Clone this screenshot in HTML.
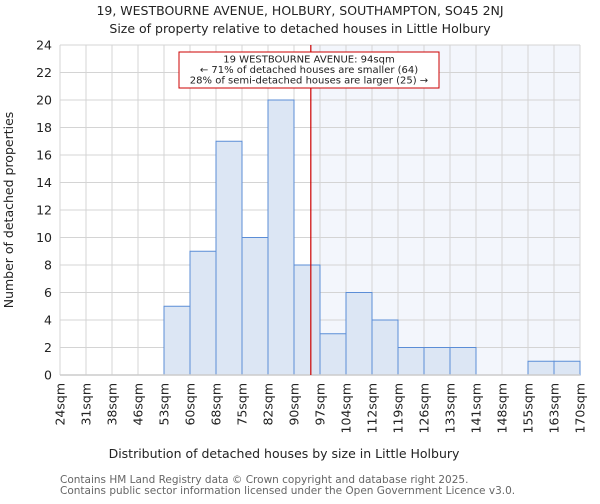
<!DOCTYPE html>
<html><head><meta charset="utf-8"><style>
body{margin:0;background:#fff;font-family:"DejaVu Sans","Liberation Sans",sans-serif}
svg text{font-family:"DejaVu Sans","Liberation Sans",sans-serif}
</style></head><body>
<svg id="c" width="600" height="500" xmlns="http://www.w3.org/2000/svg">
<text x="300" y="15" text-anchor="middle" font-size="12.5" fill="#222">19, WESTBOURNE AVENUE, HOLBURY, SOUTHAMPTON, SO45 2NJ</text>
<text x="300" y="33" text-anchor="middle" font-size="12.5" fill="#222">Size of property relative to detached houses in Little Holbury</text>
<g id="plot"></g>
<text x="284" y="458" text-anchor="middle" font-size="12.5" fill="#222">Distribution of detached houses by size in Little Holbury</text>
<text transform="translate(13,210) rotate(-90)" text-anchor="middle" font-size="12.5" fill="#222">Number of detached properties</text>
<text x="60" y="483" font-size="10.5" fill="#666">Contains HM Land Registry data © Crown copyright and database right 2025.</text>
<text x="60" y="494" font-size="10.5" fill="#666">Contains public sector information licensed under the Open Government Licence v3.0.</text>
</svg>
<script>
const binLabels=["24sqm","31sqm","38sqm","46sqm","53sqm","60sqm","68sqm","75sqm","82sqm","90sqm","97sqm","104sqm","112sqm","119sqm","126sqm","133sqm","141sqm","148sqm","155sqm","163sqm","170sqm"];
const binEdges=[24,31,38,46,53,60,68,75,82,90,97,104,112,119,126,133,141,148,155,163,170];
const counts=[0,0,0,0,5,9,17,10,20,8,3,6,4,2,2,2,0,0,1,1];
const yTicks=[0,2,4,6,8,10,12,14,16,18,20,22,24];
const subjectSize=94;
const X0=60,X1=580,Y0=375,Y1=45,YMAX=24;
const NS="http://www.w3.org/2000/svg";
const g=document.getElementById('plot');
function xi(i){return X0+(X1-X0)*i/(binEdges.length-1);}
function xv(v){const a=binEdges[0],b=binEdges[binEdges.length-1];return X0+(X1-X0)*(v-a)/(b-a)+1.5;}
function y(v){return Y0-(Y0-Y1)*v/YMAX;}
function el(t,a){const e=document.createElementNS(NS,t);for(const k in a)e.setAttribute(k,a[k]);g.appendChild(e);return e;}
const sx=xv(subjectSize);
let r=el('rect',{x:sx,y:Y1,width:X1-sx,height:Y0-Y1,fill:'#f3f6fc'});


yTicks.forEach(t=>{
 let l=el('line',{x1:X0,x2:X1,y1:y(t),y2:y(t),stroke:'#d4d4d4','stroke-width':1});
 
 
 let tx=el('text',{x:X0-8,y:y(t)+4.5,'text-anchor':'end','font-size':12.5,fill:'#222'});
 tx.textContent=t;
 
 
});
binLabels.forEach((s,i)=>{
 let l=el('line',{x1:xi(i),x2:xi(i),y1:Y1,y2:Y0,stroke:'#d4d4d4','stroke-width':1});
 
 
 let tx=el('text',{transform:`translate(${xi(i)+4.5},${Y0+8}) rotate(-90)`,'text-anchor':'end','font-size':12.5,fill:'#222'});
 tx.textContent=s;
 
 
});
counts.forEach((c,i)=>{
 if(c<=0)return;
 let b=el('rect',{x:xi(i),y:y(c),width:xi(i+1)-xi(i),height:Y0-y(c),fill:'#dce6f4',stroke:'#5b8dd6','stroke-width':1});
 
 
});
let ax=el('line',{x1:X0,x2:X1,y1:Y0,y2:Y0,stroke:'#ccc','stroke-width':1.5});


let ml=el('line',{x1:sx,x2:sx,y1:Y1,y2:Y0,stroke:'#cc0000','stroke-width':1.2});


let box=el('rect',{x:179,y:52,width:260,height:36,fill:'#fff',stroke:'#cc0000','stroke-width':1});


["19 WESTBOURNE AVENUE: 94sqm","← 71% of detached houses are smaller (64)","28% of semi-detached houses are larger (25) →"].forEach((s,i)=>{
 let t=el('text',{x:309,y:62.5+i*10.5,'text-anchor':'middle','font-size':10,fill:'#222'});
 t.textContent=s;
 
 
});
</script>
</body></html>
